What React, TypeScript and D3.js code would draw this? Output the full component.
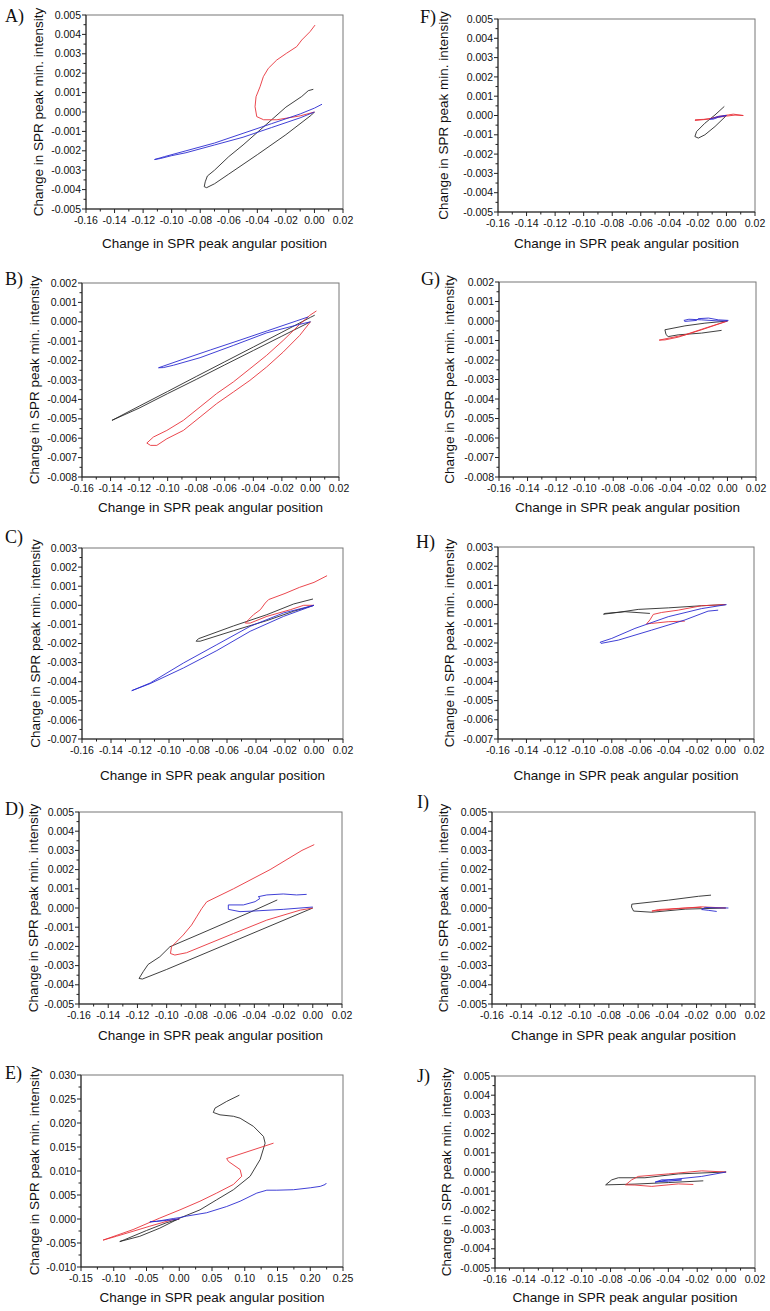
import React from "react";
import * as d3 from "d3";

type Pt = [number, number];

// ---------- data (x: change in angular position, y: change in min. intensity) ----------
const aBlack: Pt[] = [[0,0],[-0.002,-0.00015],[-0.02,-0.00117],[-0.04,-0.0022],[-0.06,-0.0032],[-0.07,-0.0037],[-0.0755,-0.0039],[-0.0772,-0.00385],[-0.0765,-0.0036],[-0.075,-0.0033],[-0.07,-0.003],[-0.06,-0.0023],[-0.05,-0.0017],[-0.04,-0.00105],[-0.03,-0.0004],[-0.02,0.00025],[-0.0089,0.0008],[-0.0043,0.0011],[-0.0008,0.00117]];
const aRed: Pt[] = [[0,0],[-0.01,-0.0002],[-0.0263,-0.0004],[-0.0356,-0.0004],[-0.0404,-0.00024],[-0.0416,0.00027],[-0.0409,0.00079],[-0.0381,0.0013],[-0.0358,0.00182],[-0.0323,0.00225],[-0.0264,0.00268],[-0.0195,0.00303],[-0.0124,0.00337],[-0.0089,0.00371],[-0.0031,0.00414],[0.0004,0.00448]];
const aBlue: Pt[] = [[0,0],[-0.01,-0.0003],[-0.03,-0.0008],[-0.05,-0.0013],[-0.07,-0.0017],[-0.09,-0.0021],[-0.1,-0.00225],[-0.108,-0.0024],[-0.112,-0.00245],[-0.105,-0.0023],[-0.09,-0.002],[-0.07,-0.0016],[-0.05,-0.0011],[-0.03,-0.0006],[-0.01,-0.0001],[0,0.0002],[0.0053,0.0004]];

const bBlack: Pt[] = [[0,0],[-0.02,-0.00074],[-0.04,-0.00148],[-0.06,-0.00222],[-0.08,-0.00297],[-0.1,-0.0037],[-0.12,-0.00445],[-0.139,-0.00508],[-0.12,-0.00435],[-0.1,-0.00359],[-0.08,-0.00282],[-0.06,-0.00206],[-0.04,-0.0013],[-0.02,-0.00054],[0,0.00023],[0.003,0.00034]];
const bRed: Pt[] = [[0,0],[-0.0075,-0.0007],[-0.0191,-0.00156],[-0.0307,-0.00233],[-0.0424,-0.00302],[-0.054,-0.00362],[-0.0657,-0.00422],[-0.0773,-0.00491],[-0.089,-0.0056],[-0.1006,-0.00603],[-0.1076,-0.00637],[-0.112,-0.00637],[-0.1146,-0.00625],[-0.11,-0.00594],[-0.1006,-0.0056],[-0.089,-0.00508],[-0.0773,-0.00439],[-0.0657,-0.0037],[-0.054,-0.0031],[-0.0424,-0.00242],[-0.0307,-0.00173],[-0.0191,-0.00096],[-0.0075,-0.00013],[-0.0005,0.00033],[0.0042,0.00056]];
const bBlue: Pt[] = [[0,0],[-0.0075,-0.00013],[-0.0307,-0.00057],[-0.054,-0.00122],[-0.0773,-0.00185],[-0.096,-0.00224],[-0.103,-0.00236],[-0.1064,-0.00237],[-0.09,-0.00195],[-0.07,-0.00145],[-0.05,-0.00096],[-0.03,-0.00046],[-0.01,0.00004],[-0.0016,0.00025]];

const cBlack: Pt[] = [[0,0],[-0.014,-0.00031],[-0.0325,-0.0008],[-0.0555,-0.00133],[-0.0785,-0.00188],[-0.0813,-0.00188],[-0.0797,-0.00175],[-0.0555,-0.00108],[-0.0325,-0.00049],[-0.014,0.00007],[-0.0007,0.00033]];
const cRed: Pt[] = [[0,0],[-0.0071,0],[-0.0163,-0.00023],[-0.0325,-0.00058],[-0.044,-0.00093],[-0.0474,-0.00093],[-0.0451,-0.00075],[-0.0417,-0.00049],[-0.037,-0.00023],[-0.0336,0.00012],[-0.0313,0.0003],[-0.02,0.00062],[-0.01,0.00094],[0,0.0012],[0.009,0.00155]];
const cBlue: Pt[] = [[0,0],[-0.021,-0.00058],[-0.044,-0.00136],[-0.067,-0.00237],[-0.09,-0.00328],[-0.113,-0.0041],[-0.1257,-0.00447],[-0.113,-0.00407],[-0.09,-0.00302],[-0.067,-0.00206],[-0.044,-0.0011],[-0.021,-0.0004],[0,0]];

const dBlack: Pt[] = [[-0.0243,0.00042],[-0.0429,-0.00022],[-0.0772,-0.00135],[-0.0978,-0.00202],[-0.1047,-0.00254],[-0.1127,-0.00294],[-0.1161,-0.00332],[-0.1189,-0.00367],[-0.1166,-0.0037],[-0.1,-0.0032],[-0.05,-0.0016],[0,0]];
const dRed: Pt[] = [[0.001,0.0033],[-0.0074,0.003],[-0.0292,0.002],[-0.0543,0.001],[-0.0726,0.00032],[-0.076,-0.00003],[-0.0795,-0.00046],[-0.083,-0.00089],[-0.0887,-0.00141],[-0.0967,-0.00202],[-0.0974,-0.00237],[-0.0944,-0.00245],[-0.0864,-0.00233],[-0.0543,-0.00133],[-0.0315,-0.00063],[-0.0086,-0.00011],[0,0]];
const dBlue: Pt[] = [[0,0.00005],[-0.0202,-0.00007],[-0.0407,-0.00016],[-0.0498,-0.00019],[-0.0578,-0.00007],[-0.0578,0.00016],[-0.0475,0.00016],[-0.0395,0.00033],[-0.0361,0.0005],[-0.0373,0.00059],[-0.0315,0.00068],[-0.0202,0.00073],[-0.0111,0.00068],[-0.0042,0.00071]];

const eBlack: Pt[] = [[0.0918,0.0258],[0.0724,0.0245],[0.0546,0.0231],[0.052,0.0222],[0.0622,0.0217],[0.0827,0.0214],[0.0929,0.021],[0.1133,0.0193],[0.1286,0.0172],[0.1311,0.0158],[0.1235,0.0124],[0.1082,0.0089],[0.0827,0.0061],[0.0571,0.004],[0.0316,0.0019],[0.001,0.0002],[-0.0296,-0.0019],[-0.0602,-0.0036],[-0.0908,-0.0047],[-0.0832,-0.0043],[-0.05,-0.0024],[-0.02,-0.0008],[0,0]];
const eRed: Pt[] = [[0.1439,0.0158],[0.0724,0.0126],[0.075,0.012],[0.0929,0.0103],[0.0954,0.0089],[0.0827,0.0072],[0.0571,0.0054],[0.0316,0.0037],[0.001,0.0019],[-0.0296,0.0002],[-0.0704,-0.0022],[-0.1163,-0.0044],[-0.0959,-0.0036],[-0.0449,-0.0015],[-0.0092,-0.0001],[0,0]];
const eBlue: Pt[] = [[0,0],[-0.0194,-0.0003],[-0.0449,-0.0006],[-0.035,-0.0005],[-0.0092,0.0001],[0.001,0.0003],[0.0112,0.0006],[0.0418,0.0013],[0.0724,0.0026],[0.0929,0.0037],[0.1184,0.0054],[0.1337,0.006],[0.149,0.006],[0.1745,0.0061],[0.2,0.0065],[0.2153,0.0068],[0.223,0.0072],[0.2245,0.0075]];

const fBlack: Pt[] = [[-0.0015,0.00047],[-0.008,0.00003],[-0.0151,-0.0004],[-0.0209,-0.00083],[-0.0221,-0.00109],[-0.0197,-0.00117],[-0.0151,-0.001],[-0.008,-0.00057],[0,0]];
const fRed: Pt[] = [[-0.0221,-0.00026],[-0.0127,-0.00019],[-0.0057,-0.00005],[0.0013,0.00003],[0.0048,0.00007],[0.0118,0],[0.006,0.00002],[0,-0.00003],[-0.008,-0.00012],[-0.016,-0.0002],[-0.022,-0.00022]];
const fBlue: Pt[] = [[0,0],[-0.0057,-0.00005],[-0.0116,-0.00019],[-0.0092,-0.00019],[-0.0057,-0.00009],[0,0]];

const gBlack: Pt[] = [[-0.0041,-0.00048],[-0.0181,-0.00062],[-0.0345,-0.00071],[-0.0415,-0.0008],[-0.043,-0.0007],[-0.0438,-0.00045],[-0.0298,-0.00025],[-0.0158,-0.00011],[0,0]];
const gRed: Pt[] = [[0,0],[-0.0158,-0.00037],[-0.0298,-0.00071],[-0.0478,-0.00098],[-0.0438,-0.00097],[-0.0345,-0.00083],[-0.0181,-0.00045],[0,0]];
const gBlue: Pt[] = [[0.0007,0.00003],[-0.0064,0.00006],[-0.0132,0.00015],[-0.0205,0.00012],[-0.0216,0.00003],[-0.0298,-0.00002],[-0.0305,0.00003],[-0.027,0.00009],[-0.018,0.00006],[-0.008,0.00001],[0,0]];

const hBlack: Pt[] = [[-0.0532,-0.00046],[-0.0707,-0.00037],[-0.0847,-0.00046],[-0.0858,-0.0005],[-0.075,-0.0004],[-0.0614,-0.00025],[-0.0403,-0.00017],[-0.017,-0.00006],[0,0]];
const hRed: Pt[] = [[-0.0286,-0.00086],[-0.0403,-0.00089],[-0.052,-0.00098],[-0.0555,-0.001],[-0.0532,-0.0008],[-0.0508,-0.00051],[-0.045,-0.00041],[-0.0333,-0.00029],[-0.017,-0.00006],[0,0]];
const hBlue: Pt[] = [[0.0007,0],[-0.017,-0.00021],[-0.0403,-0.00063],[-0.0637,-0.00124],[-0.08,-0.00176],[-0.0882,-0.00196],[-0.0875,-0.00202],[-0.0754,-0.00185],[-0.052,-0.00133],[-0.0286,-0.0008],[-0.0123,-0.00034],[-0.0052,-0.00029]];

const iBlack: Pt[] = [[-0.0101,0.00067],[-0.0187,0.00061],[-0.0392,0.00041],[-0.0643,0.0002],[-0.0645,0.00005],[-0.0631,-0.00016],[-0.0506,-0.00022],[-0.0278,-0.00006],[0,0]];
const iRed: Pt[] = [[0,0],[-0.0165,0.00006],[-0.0324,-0.00003],[-0.0506,-0.00016],[-0.046,-0.00008],[-0.0278,0],[-0.0165,0.00004]];
const iBlue: Pt[] = [[0.0018,0],[-0.0073,0.00001],[-0.0141,0.00003],[-0.0165,-0.00008],[-0.012,-0.00012],[-0.0062,-0.00018]];

const jBlack: Pt[] = [[-0.0158,-0.00046],[-0.04,-0.00055],[-0.0631,-0.00063],[-0.0834,-0.00067],[-0.0792,-0.00041],[-0.0746,-0.0003],[-0.0562,-0.0003],[-0.0331,-0.0001],[0,0]];
const jRed: Pt[] = [[-0.0227,-0.00065],[-0.0331,-0.00062],[-0.0515,-0.00075],[-0.0631,-0.00068],[-0.0696,-0.00067],[-0.0654,-0.00041],[-0.0608,-0.00023],[-0.04,-0.0001],[-0.0169,0.00006],[0,0]];
const jBlue: Pt[] = [[0,0],[-0.0169,-0.00023],[-0.04,-0.00041],[-0.0492,-0.00053],[-0.0446,-0.00041],[-0.0308,-0.00041],[-0.04,-0.00048],[-0.048,-0.0005]];

// ---------- axis ranges / tick labels ----------
const xRangeStd: [number, number] = [-0.16, 0.02];
const xRangeE: [number, number] = [-0.15, 0.25];
const yRange5: [number, number] = [-0.005, 0.005];
const yRange8: [number, number] = [-0.008, 0.002];
const yRange7: [number, number] = [-0.007, 0.003];
const yRangeE: [number, number] = [-0.01, 0.03];

const X_TITLE = "Change in SPR peak angular position";
const Y_TITLE = "Change in SPR peak min. intensity";

const COLORS = { black: "#2a2a2a", red: "#e8323a", blue: "#2a2ad0" };

// ---------- layout ----------
type Panel = {
  label: string;
  box: [number, number, number, number]; // left, right, top, bottom
  xDom: [number, number]; xStep: number;
  yDom: [number, number]; yStep: number;
  labelPos: [number, number];
  yTitleX: number; xTitleY: number;
  black: Pt[]; red: Pt[]; blue: Pt[];
};

const panels: Panel[] = [
  { label: "A)", box: [86, 343, 15, 209], xDom: xRangeStd, xStep: 0.02, yDom: yRange5, yStep: 0.001, labelPos: [5, 22], yTitleX: 38, xTitleY: 248, black: aBlack, red: aRed, blue: aBlue },
  { label: "B)", box: [82, 339, 283, 477], xDom: xRangeStd, xStep: 0.02, yDom: yRange8, yStep: 0.001, labelPos: [5, 285], yTitleX: 34, xTitleY: 512, black: bBlack, red: bRed, blue: bBlue },
  { label: "C)", box: [82, 343, 548, 739], xDom: xRangeStd, xStep: 0.02, yDom: yRange7, yStep: 0.001, labelPos: [5, 543], yTitleX: 35, xTitleY: 780, black: cBlack, red: cRed, blue: cBlue },
  { label: "D)", box: [79, 342, 812, 1004], xDom: xRangeStd, xStep: 0.02, yDom: yRange5, yStep: 0.001, labelPos: [5, 815], yTitleX: 33, xTitleY: 1040, black: dBlack, red: dRed, blue: dBlue },
  { label: "E)", box: [81, 343, 1075, 1267], xDom: xRangeE, xStep: 0.05, yDom: yRangeE, yStep: 0.005, labelPos: [5, 1079], yTitleX: 34, xTitleY: 1302, black: eBlack, red: eRed, blue: eBlue },
  { label: "F)", box: [498, 755, 19, 212], xDom: xRangeStd, xStep: 0.02, yDom: yRange5, yStep: 0.001, labelPos: [420, 23], yTitleX: 443, xTitleY: 248, black: fBlack, red: fRed, blue: fBlue },
  { label: "G)", box: [499, 756, 282, 477], xDom: xRangeStd, xStep: 0.02, yDom: yRange8, yStep: 0.001, labelPos: [421, 285], yTitleX: 449, xTitleY: 512, black: gBlack, red: gRed, blue: gBlue },
  { label: "H)", box: [498, 754, 547, 739], xDom: xRangeStd, xStep: 0.02, yDom: yRange7, yStep: 0.001, labelPos: [416, 548], yTitleX: 449, xTitleY: 780, black: hBlack, red: hRed, blue: hBlue },
  { label: "I)", box: [492, 755, 812, 1004], xDom: xRangeStd, xStep: 0.02, yDom: yRange5, yStep: 0.001, labelPos: [417, 808], yTitleX: 443, xTitleY: 1040, black: iBlack, red: iRed, blue: iBlue },
  { label: "J)", box: [495, 755, 1076, 1268], xDom: xRangeStd, xStep: 0.02, yDom: yRange5, yStep: 0.001, labelPos: [417, 1082], yTitleX: 446, xTitleY: 1302, black: jBlack, red: jRed, blue: jBlue },
];

const SANS = "'Liberation Sans', Arial, Helvetica, sans-serif";
const SERIF = "'Liberation Serif', 'Times New Roman', serif";

function makeTicks(dom: [number, number], step: number, minorDiv: number) {
  const n = Math.round((dom[1] - dom[0]) / step);
  const major = d3.range(n + 1).map((i) => +(dom[0] + i * step).toFixed(6));
  const minor = d3.range(n * minorDiv + 1)
    .filter((i) => i % minorDiv !== 0)
    .map((i) => +(dom[0] + (i * step) / minorDiv).toFixed(6));
  return { major, minor };
}

function fmt(v: number, dec: number) {
  return Math.abs(v) < 1e-12 ? (0).toFixed(dec) : v.toFixed(dec);
}

function PanelView({ p }: { p: Panel }) {
  const [L, R, T, B] = p.box;
  const x = d3.scaleLinear().domain(p.xDom).range([L, R]);
  const y = d3.scaleLinear().domain(p.yDom).range([B, T]);
  const line = d3.line<Pt>().x((d) => x(d[0])).y((d) => y(d[1]));
  const xt = makeTicks(p.xDom, p.xStep, 2);
  const yt = makeTicks(p.yDom, p.yStep, 2);
  const cx = (L + R) / 2;
  const cy = (T + B) / 2;
  return (
    <g>
      <rect x={L} y={T} width={R - L} height={B - T} fill="none" stroke="#777" strokeWidth={1} />
      <line x1={L} x2={L} y1={T} y2={B} stroke="#222" strokeWidth={1} />
      <line x1={L} x2={R} y1={B} y2={B} stroke="#222" strokeWidth={1} />
      {xt.major.map((v) => (
        <g key={"xm" + v}>
          <line x1={x(v)} x2={x(v)} y1={B} y2={B + 4} stroke="#222" strokeWidth={1} />
          <text x={x(v)} y={B + 14.5} textAnchor="middle" fontSize={10.5} fontFamily={SANS} fill="#111">{fmt(v, 2)}</text>
        </g>
      ))}
      {xt.minor.map((v) => (
        <line key={"xn" + v} x1={x(v)} x2={x(v)} y1={B} y2={B + 2.5} stroke="#222" strokeWidth={1} />
      ))}
      {yt.major.map((v) => (
        <g key={"ym" + v}>
          <line x1={L - 4} x2={L} y1={y(v)} y2={y(v)} stroke="#222" strokeWidth={1} />
          <text x={L - 5} y={y(v)} dy="0.35em" textAnchor="end" fontSize={10.5} fontFamily={SANS} fill="#111">{fmt(v, 3)}</text>
        </g>
      ))}
      {yt.minor.map((v) => (
        <line key={"yn" + v} x1={L - 2.5} x2={L} y1={y(v)} y2={y(v)} stroke="#222" strokeWidth={1} />
      ))}
      <path d={line(p.black) || ""} fill="none" stroke={COLORS.black} strokeWidth={0.9} />
      <path d={line(p.red) || ""} fill="none" stroke={COLORS.red} strokeWidth={0.9} />
      <path d={line(p.blue) || ""} fill="none" stroke={COLORS.blue} strokeWidth={0.9} />
      <text x={cx} y={p.xTitleY} textAnchor="middle" fontSize={13.5} fontFamily={SANS} fill="#111">{X_TITLE}</text>
      <text transform={`translate(${p.yTitleX},${cy}) rotate(-90)`} dy="0.35em" textAnchor="middle" fontSize={13.5} fontFamily={SANS} fill="#111">{Y_TITLE}</text>
      <text x={p.labelPos[0]} y={p.labelPos[1]} fontSize={18} fontFamily={SERIF} fill="#111">{p.label}</text>
    </g>
  );
}

export default function App() {
  return (
    <svg width={770} height={1311} style={{ position: "absolute", left: 0, top: 0, background: "#fff" }}>
      <rect x={0} y={0} width={770} height={1311} fill="#fff" />
      {panels.map((p) => (
        <PanelView key={p.label} p={p} />
      ))}
    </svg>
  );
}
